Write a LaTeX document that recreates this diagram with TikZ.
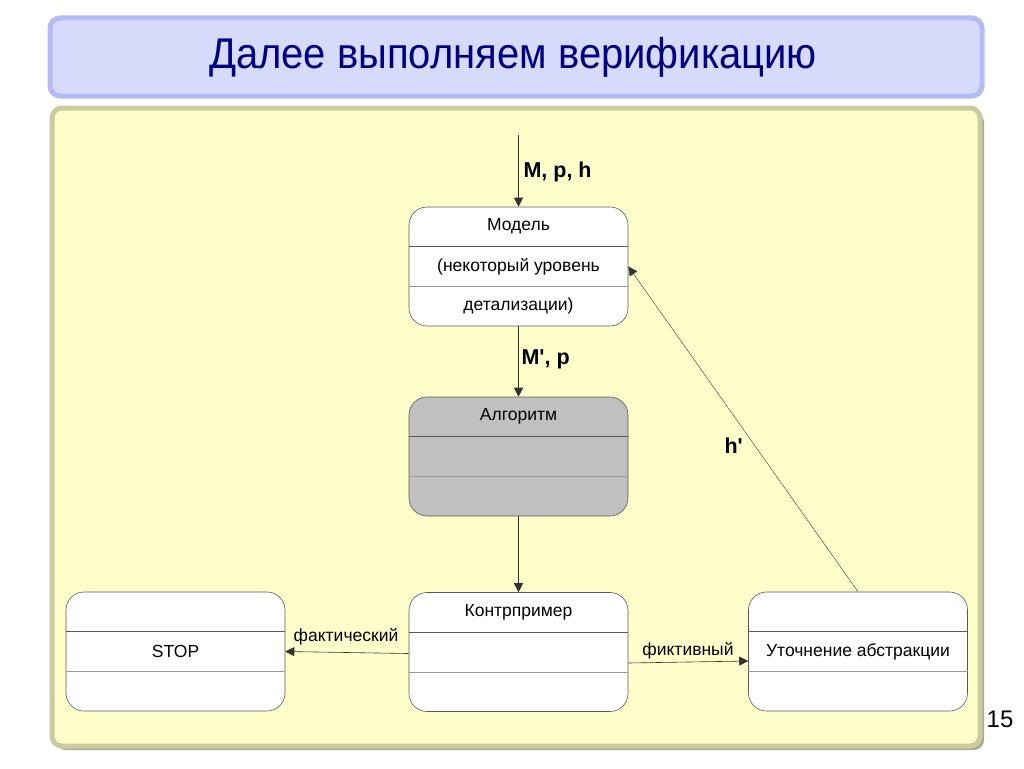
\documentclass[tikz,border=0pt]{standalone}
\usepackage{fontspec}
\setmainfont{Liberation Sans}
\newfontfamily\titlefont[FakeStretch=0.93]{Liberation Sans}
\usetikzlibrary{arrows.meta,calc}

\definecolor{titlefill}{RGB}{214,219,251}
\definecolor{titleedge}{RGB}{180,188,246}
\definecolor{panelfill}{RGB}{255,255,204}
\definecolor{paneledge}{RGB}{204,204,160}
\definecolor{panelshadow}{RGB}{170,170,150}
\definecolor{titletext}{RGB}{0,0,128}
\definecolor{algofill}{RGB}{192,192,192}

\begin{document}
\begin{tikzpicture}[
    x=1pt, y=-1pt,
    statebox/.style={rectangle, rounded corners=18pt, draw=black!65, fill=white, line width=0.6pt, minimum width=219pt, minimum height=119pt, inner sep=0pt},
    boxtext/.style={font=\fontsize{17.5}{21}\selectfont},
    flowlabel/.style={font=\fontsize{21.5}{26}\selectfont\bfseries, anchor=west},
    edgelabel/.style={font=\fontsize{17.5}{21}\selectfont},
    flow/.style={-{Triangle[length=9pt,width=9pt]}, black!80, line width=0.6pt}
]
\useasboundingbox (0,0) rectangle (1024,768);

% === SLIDE FRAME ===
\fill[white] (0,0) rectangle (1024,768);
\draw[titleedge, fill=titlefill, line width=5pt, rounded corners=10pt] (50,18) rectangle (982,96);
\node[font=\titlefont\fontsize{43}{50}\selectfont, text=titletext] (title) at (513,57) {Далее выполняем верификацию};

\fill[panelshadow, rounded corners=10pt] (56,112) rectangle (984,750);
\draw[paneledge, fill=panelfill, line width=5pt, rounded corners=10pt] (52,108) rectangle (980,746);

\node[font=\fontsize{24}{28}\selectfont] (pagenum) at (1000,719) {15};

% === STATES ===
\node[statebox] (model) at (518.5,266.5) {};
\node[statebox, fill=algofill] (algo) at (518.5,456.5) {};
\node[statebox] (kontr) at (518.5,652) {};
\node[statebox] (stop) at (175.5,651.5) {};
\node[statebox] (utoch) at (858,651.5) {};

% compartment lines
\foreach \n in {model,algo,kontr,stop,utoch} {
    \draw[black!65, line width=0.6pt] ($(\n.north west)!1/3!(\n.south west)$) -- ($(\n.north east)!1/3!(\n.south east)$);
    \draw[black!40, line width=0.6pt] ($(\n.north west)!2/3!(\n.south west)$) -- ($(\n.north east)!2/3!(\n.south east)$);
}

% compartment texts
\node[boxtext] (modelname) at ($(model.north)!1/6!(model.south)$) {Модель};
\node[boxtext] (modellevel) at (model.center) {(некоторый уровень};
\node[boxtext] (modeldetail) at ($(model.north)!5/6!(model.south)$) {детализации)};
\node[boxtext] (aloname) at ($(algo.north)!1/6!(algo.south)$) {Алгоритм};
\node[boxtext] (kontrname) at ($(kontr.north)!1/6!(kontr.south)$) {Контрпример};
\node[boxtext] (stopname) at (stop.center) {STOP};
\node[boxtext] (utochname) at (utoch.center) {Уточнение абстракции};

% === CONNECTORS ===
\coordinate (inflow) at (518.5,135);
\draw[flow] (inflow) -- (model.north);
\node[flowlabel] (mph) at (520,172) {M, p, h};

\draw[flow] (model.south) -- (algo.north);
\node[flowlabel] (mp) at (518,359) {M\textquotesingle, p};

\draw[flow] (algo.south) -- (kontr.north);

\draw[flow] ([yshift=-1.5pt]kontr.west) -- (stop.east);
\node[edgelabel] (fakt) at (346,637) {фактический};

\draw[flow] ([yshift=-11pt]kontr.east) -- ([yshift=-9.5pt]utoch.west);
\node[edgelabel] (fikt) at (688,651) {фиктивный};

\draw[flow, line width=0.4pt] (utoch.north) -- (model.east);
\node[flowlabel] (hprime) at (721,446) {h\textquotesingle};

\end{tikzpicture}
\end{document}
